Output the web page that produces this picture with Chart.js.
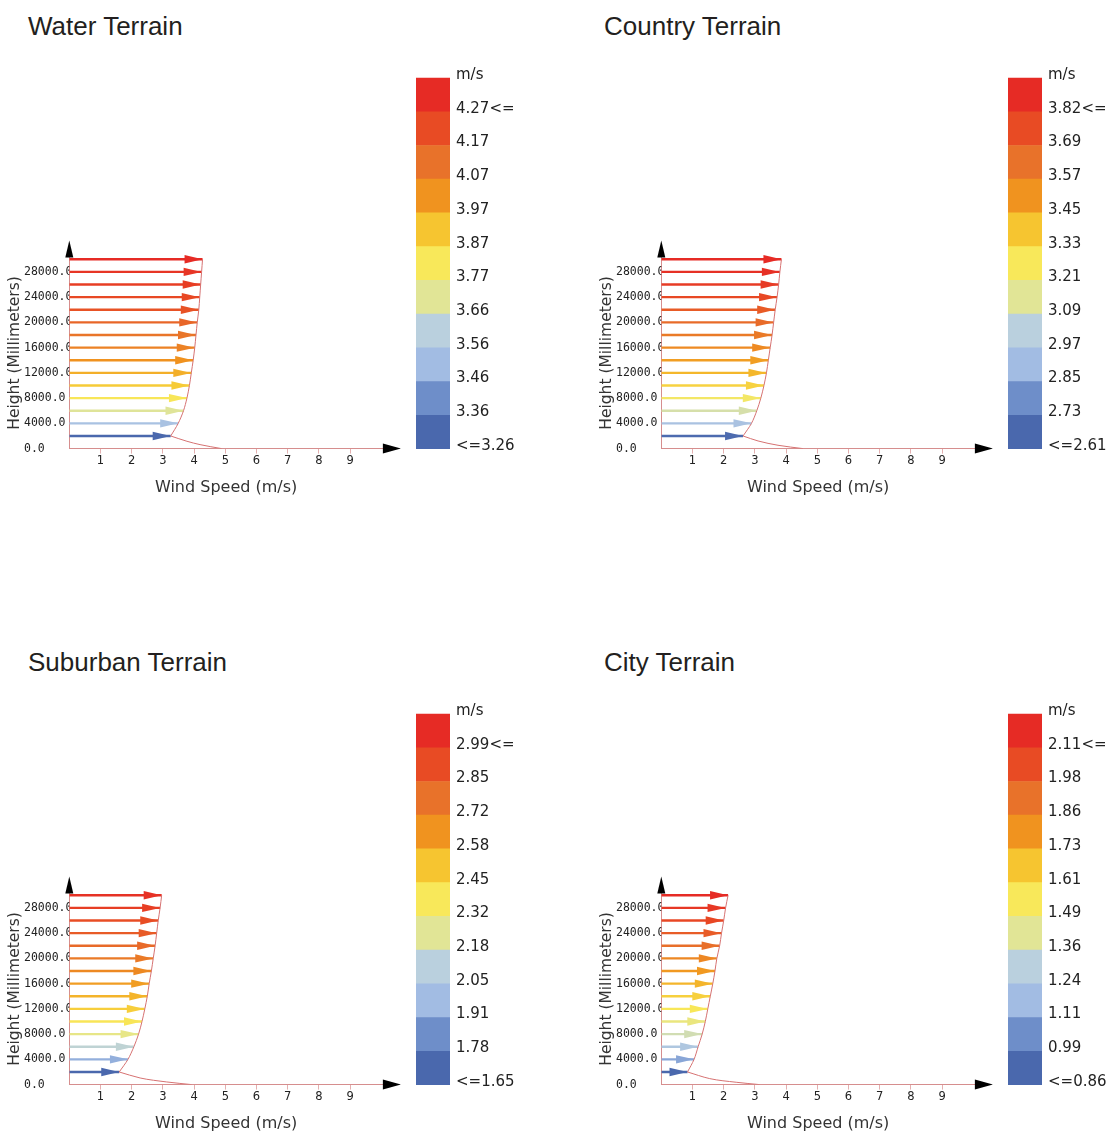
<!DOCTYPE html>
<html>
<head>
<meta charset="utf-8">
<script src="https://cdn.jsdelivr.net/npm/chart.js@4.4.1/dist/chart.umd.min.js"></script>
<style>
  html, body { margin: 0; padding: 0; background: #fff; }
  body { width: 1110px; height: 1133px; position: relative; overflow: hidden; }
  .title { position: absolute; font-family: 'Liberation Sans', Arial, sans-serif; font-size: 26px; line-height: 26px; color: #231f20; white-space: nowrap; }
  .panel { position: absolute; width: 555px; height: 566px; }
  .panel canvas { position: absolute; }
</style>
</head>
<body>
<div class="title" style="left:28px;top:13px">Water Terrain</div>
<div class="title" style="left:604px;top:13px">Country Terrain</div>
<div class="title" style="left:28px;top:649px">Suburban Terrain</div>
<div class="title" style="left:604px;top:649px">City Terrain</div>

<div class="panel" style="left:0;top:0">
  <canvas id="water-chart" width="410" height="520" style="left:0;top:0;width:410px;height:520px"></canvas>
  <canvas id="water-legend" width="150" height="410" style="left:400px;top:50px;width:150px;height:410px"></canvas>
</div>
<div class="panel" style="left:592.4px;top:0">
  <canvas id="country-chart" width="410" height="520" style="left:0;top:0;width:410px;height:520px"></canvas>
  <canvas id="country-legend" width="150" height="410" style="left:400px;top:50px;width:150px;height:410px"></canvas>
</div>
<div class="panel" style="left:0;top:636px">
  <canvas id="suburban-chart" width="410" height="520" style="left:0;top:0;width:410px;height:520px"></canvas>
  <canvas id="suburban-legend" width="150" height="410" style="left:400px;top:50px;width:150px;height:410px"></canvas>
</div>
<div class="panel" style="left:592.4px;top:636px">
  <canvas id="city-chart" width="410" height="520" style="left:0;top:0;width:410px;height:520px"></canvas>
  <canvas id="city-legend" width="150" height="410" style="left:400px;top:50px;width:150px;height:410px"></canvas>
</div>

<script>
// --- data ---
const heights = [2000, 4000, 6000, 8000, 10000, 12000, 14000, 16000, 18000, 20000, 22000, 24000, 26000, 28000, 30000];
const yTicks = [0, 4000, 8000, 12000, 16000, 20000, 24000, 28000];
const xTicks = [1, 2, 3, 4, 5, 6, 7, 8, 9];

const waterSpeeds    = [3.25, 3.49, 3.66, 3.77, 3.85, 3.91, 3.97, 4.02, 4.06, 4.10, 4.15, 4.18, 4.21, 4.24, 4.27];
const countrySpeeds  = [2.62, 2.89, 3.06, 3.19, 3.29, 3.37, 3.43, 3.49, 3.55, 3.60, 3.65, 3.71, 3.76, 3.80, 3.85];
const suburbanSpeeds = [1.60, 1.88, 2.07, 2.22, 2.33, 2.42, 2.50, 2.56, 2.63, 2.69, 2.75, 2.80, 2.85, 2.91, 2.96];
const citySpeeds     = [0.84, 1.05, 1.18, 1.31, 1.41, 1.49, 1.57, 1.65, 1.72, 1.78, 1.87, 1.93, 2.00, 2.06, 2.14];

// the thin curve from the lowest arrow down to the ground
const waterGroundX    = [3.25, 3.77, 4.19, 4.88];
const waterGroundY    = [2000, 1160, 630, 0];
const countryGroundX  = [2.62, 3.10, 3.74, 4.54];
const countryGroundY  = [2000, 1210, 530, 0];
const suburbanGroundX = [1.60, 2.27, 3.12, 3.92];
const suburbanGroundY = [2000, 1050, 420, 0];
const cityGroundX     = [0.84, 1.55, 2.40, 3.15];
const cityGroundY     = [2000, 950, 370, 0];

// legend labels, top to bottom
const waterLegend    = ['m/s', '4.27<=', '4.17', '4.07', '3.97', '3.87', '3.77', '3.66', '3.56', '3.46', '3.36', '<=3.26'];
const countryLegend  = ['m/s', '3.82<=', '3.69', '3.57', '3.45', '3.33', '3.21', '3.09', '2.97', '2.85', '2.73', '<=2.61'];
const suburbanLegend = ['m/s', '2.99<=', '2.85', '2.72', '2.58', '2.45', '2.32', '2.18', '2.05', '1.91', '1.78', '<=1.65'];
const cityLegend     = ['m/s', '2.11<=', '1.98', '1.86', '1.73', '1.61', '1.49', '1.36', '1.24', '1.11', '0.99', '<=0.86'];

const waterRange    = [3.26, 4.27];
const countryRange  = [2.61, 3.82];
const suburbanRange = [1.65, 2.99];
const cityRange     = [0.86, 2.11];

// colour stops bottom -> top
const legendColors = ['#4a68ad', '#6e8ec9', '#a2bce3', '#bad0de', '#e1e596', '#f8e85a', '#f6c530', '#f0931f', '#e8722a', '#e84b24', '#e62b25'];

Chart.defaults.font.family = "'DejaVu Sans', Verdana, sans-serif";
Chart.defaults.color = '#222';

const AXIS_COLOR = '#d68e8e';
const PROFILE_COLOR = '#d67272';

function hexToRgb(h) {
    return [parseInt(h.slice(1, 3), 16), parseInt(h.slice(3, 5), 16), parseInt(h.slice(5, 7), 16)];
}

function colorFor(v, range) {
    let t = (v - range[0]) / (range[1] - range[0]);
    t = Math.max(0, Math.min(1, t));
    const p = t * (legendColors.length - 1);
    const i = Math.min(Math.floor(p), legendColors.length - 2);
    const f = p - i;
    const a = hexToRgb(legendColors[i]), b = hexToRgb(legendColors[i + 1]);
    const c = a.map((ch, k) => Math.round(ch + (b[k] - ch) * f));
    return 'rgb(' + c.join(',') + ')';
}

// arrowheads on wind vectors and on both axes
const arrowHeads = {
    id: 'arrowHeads',
    afterDatasetsDraw(chart) {
        const ctx = chart.ctx;
        ctx.save();
        chart.data.datasets.forEach((ds, i) => {
            if (!ds.arrow) return;
            const tip = chart.getDatasetMeta(i).data[1];
            ctx.fillStyle = ds.borderColor;
            ctx.beginPath();
            ctx.moveTo(tip.x, tip.y);
            ctx.lineTo(tip.x - 18, tip.y - 4.2);
            ctx.lineTo(tip.x - 18, tip.y + 4.2);
            ctx.closePath();
            ctx.fill();
        });
        const xs = chart.scales.x, ys = chart.scales.y;
        ctx.fillStyle = '#000';
        // x axis
        ctx.beginPath();
        ctx.moveTo(xs.right + 18, ys.bottom);
        ctx.lineTo(xs.right, ys.bottom - 5);
        ctx.lineTo(xs.right, ys.bottom + 5);
        ctx.closePath();
        ctx.fill();
        // y axis
        ctx.beginPath();
        ctx.moveTo(xs.left, ys.top - 17);
        ctx.lineTo(xs.left - 4, ys.top);
        ctx.lineTo(xs.left + 4, ys.top);
        ctx.closePath();
        ctx.fill();
        ctx.restore();
    }
};

function noEdgePadding(s) {
    s.paddingTop = 0; s.paddingBottom = 0; s.paddingLeft = 0; s.paddingRight = 0;
}

function makeProfileChart(id, speeds, groundX, groundY, range) {
    const datasets = [];
    datasets.push({
        data: heights.map((h, i) => ({ x: speeds[i], y: h })),
        showLine: true, borderColor: PROFILE_COLOR, borderWidth: 1, pointRadius: 0, tension: 0.3
    });
    datasets.push({
        data: groundY.map((h, i) => ({ x: groundX[i], y: h })),
        showLine: true, borderColor: PROFILE_COLOR, borderWidth: 1, pointRadius: 0,
        cubicInterpolationMode: 'monotone'
    });
    heights.forEach((h, i) => {
        datasets.push({
            data: [{ x: 0, y: h }, { x: speeds[i], y: h }],
            showLine: true, borderColor: colorFor(speeds[i], range), borderWidth: 2.4,
            pointRadius: 0, arrow: true
        });
    });

    new Chart(document.getElementById(id), {
        type: 'scatter',
        data: { datasets },
        options: {
            responsive: false,
            animation: false,
            layout: { padding: { left: 24, top: 257.4, right: 27.1, bottom: 0 } },
            plugins: { legend: { display: false }, tooltip: { enabled: false } },
            scales: {
                x: {
                    type: 'linear', min: 0, max: 10.05,
                    afterBuildTicks: s => { s.ticks = xTicks.map(v => ({ value: v })); },
                    afterFit: s => { s.height = 71.4; noEdgePadding(s); },
                    grid: { drawOnChartArea: false, drawTicks: true, tickLength: 5, color: '#e3b0b0' },
                    border: { display: true, color: AXIS_COLOR, width: 1 },
                    ticks: { autoSkip: false, maxRotation: 0, padding: 1, font: { size: 11.5 }, color: '#222',
                        callback: v => String(v) },
                    title: { display: true, text: 'Wind Speed (m/s)', font: { size: 16 }, color: '#333',
                        padding: { top: 0, bottom: 22.2 } }
                },
                y: {
                    type: 'linear', min: 0, max: 30300,
                    afterBuildTicks: s => { s.ticks = yTicks.map(v => ({ value: v })); },
                    afterFit: s => { s.width = 45.3; noEdgePadding(s); },
                    grid: { display: false, drawTicks: false },
                    border: { display: true, color: AXIS_COLOR, width: 1 },
                    ticks: { autoSkip: false, crossAlign: 'far', padding: 0,
                        font: { family: "'DejaVu Sans Mono', monospace", size: 11.5 }, color: '#222',
                        callback: v => v.toFixed(1) },
                    title: { display: true, text: 'Height (Millimeters)', font: { size: 15.5 }, color: '#333',
                        padding: { top: -18.3, bottom: 0 } }
                }
            }
        },
        plugins: [arrowHeads]
    });
}

function makeLegend(id, labels) {
    const datasets = legendColors.map(c => ({
        data: [1], backgroundColor: c, borderWidth: 0, barPercentage: 1, categoryPercentage: 1
    }));
    new Chart(document.getElementById(id), {
        type: 'bar',
        data: { labels: [''], datasets },
        options: {
            responsive: false,
            animation: false,
            layout: { padding: { left: 16, top: 17.9, right: 0, bottom: 11 } },
            plugins: { legend: { display: false }, tooltip: { enabled: false } },
            scales: {
                x: { display: false, stacked: true },
                y: {
                    stacked: true, position: 'right', min: 0, max: 11.3,
                    grid: { display: false, drawTicks: false },
                    border: { display: false },
                    afterBuildTicks: s => { s.ticks = labels.map((l, k) => ({ value: 11.09 - k })); },
                    afterFit: s => { s.width = 100; noEdgePadding(s); },
                    ticks: { autoSkip: false, padding: 6, font: { size: 15 }, color: '#222',
                        callback: (v, i) => labels[i] }
                }
            }
        }
    });
}

makeProfileChart('water-chart', waterSpeeds, waterGroundX, waterGroundY, waterRange);
makeProfileChart('country-chart', countrySpeeds, countryGroundX, countryGroundY, countryRange);
makeProfileChart('suburban-chart', suburbanSpeeds, suburbanGroundX, suburbanGroundY, suburbanRange);
makeProfileChart('city-chart', citySpeeds, cityGroundX, cityGroundY, cityRange);

makeLegend('water-legend', waterLegend);
makeLegend('country-legend', countryLegend);
makeLegend('suburban-legend', suburbanLegend);
makeLegend('city-legend', cityLegend);
</script>
</body>
</html>
